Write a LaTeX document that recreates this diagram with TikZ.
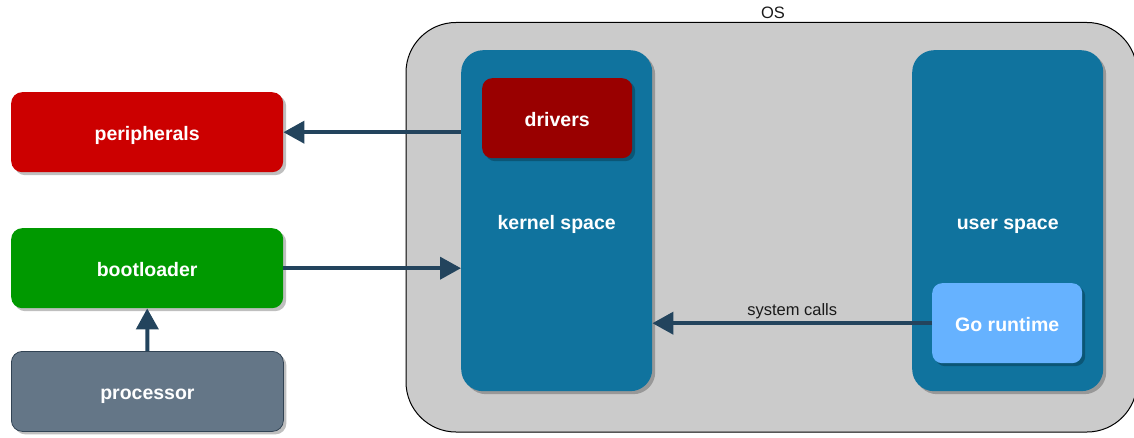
\documentclass[tikz,border=0pt]{standalone}
\usepackage{fontspec}
\setmainfont{Liberation Sans}
\usetikzlibrary{arrows.meta,shadows}
\definecolor{periphred}{HTML}{CC0000}
\definecolor{bootgreen}{HTML}{009900}
\definecolor{procgray}{HTML}{647687}
\definecolor{procline}{HTML}{314354}
\definecolor{spaceblue}{HTML}{10739E}
\definecolor{driverred}{HTML}{990000}
\definecolor{golight}{HTML}{66B2FF}
\definecolor{arrownavy}{HTML}{23445D}
\definecolor{osgray}{HTML}{CBCBCB}
\definecolor{labeldark}{HTML}{1A1A1A}
\tikzset{
  boxbase/.style={rectangle, anchor=north west, inner sep=0pt, text=white,
    font=\bfseries\fontsize{19.5}{23}\selectfont,
    text height=17.5pt, text depth=0.5pt,
    drop shadow={shadow xshift=3pt, shadow yshift=-3pt, fill=black, opacity=0.25}},
  smallbox/.style={boxbase, rounded corners=11pt, minimum width=272pt, minimum height=80pt},
  innerbox/.style={boxbase, rounded corners=10pt, minimum width=150pt, minimum height=80pt},
  spacebox/.style={boxbase, rounded corners=22pt, minimum width=191pt, minimum height=341pt},
  conn/.style={draw=arrownavy, line width=4pt,
    -{Triangle[length=21pt,width=22pt]}},
  plainlabel/.style={text=labeldark, font=\fontsize{16.5}{19}\selectfont, inner sep=0pt}
}
\begin{document}
\begin{tikzpicture}[x=1pt,y=-1pt]
  \useasboundingbox (0,0) rectangle (1134,438);
  % operating system container
  \begin{scope}
    \clip (0,0) rectangle (1134,438);
    \draw[fill=osgray, draw=black, line width=1pt, rounded corners=50pt]
      (406,22.5) rectangle (1137,432);
  \end{scope}
  \node[plainlabel] (oslabel) at (773,13) {OS};

  % hardware side
  \node[smallbox, fill=periphred] (periph) at (11,92) {peripherals};
  \node[smallbox, fill=bootgreen] (boot) at (11,228) {bootloader};
  \node[smallbox, fill=procgray, draw=procline, line width=0.8pt] (proc) at (11,351) {processor};

  % kernel and user space
  \node[spacebox, fill=spaceblue] (kernel) at (461,50) {kernel space};
  \node[spacebox, fill=spaceblue] (user) at (912,50) {user space};
  \node[innerbox, fill=driverred] (drivers) at (482,78) {drivers};
  \node[innerbox, fill=golight] (goruntime) at (932,283) {Go runtime};

  % connectors
  \draw[conn] (kernel.west |- periph.east) -- (periph.east);
  \draw[conn] (boot.east) -- (kernel.west |- boot.east);
  \draw[conn] (proc.north) -- (boot.south);
  \draw[conn] (goruntime.west) -- (kernel.east |- goruntime.west)
    node[plainlabel, pos=0.5, above=2pt] (syscalls) {system calls};
\end{tikzpicture}
\end{document}
